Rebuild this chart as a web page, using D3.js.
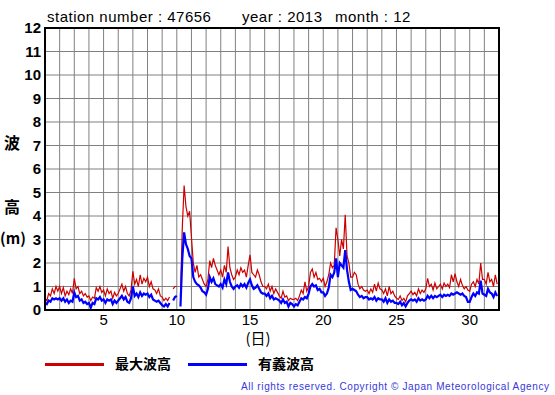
<!DOCTYPE html>
<html>
<head>
<meta charset="utf-8">
<script src="https://cdn.jsdelivr.net/npm/d3@7"></script>
<style>
  body { margin: 0; background: #fff; }
  svg { display: block; font-family: "Liberation Sans", Arial, sans-serif; }
</style>
</head>
<body>
<div class="chart"></div>
<script>
// 3-hourly values, one row per day (hours 0,3,...,21), null = missing
const maxWave = [
  0.5, 0.4, 0.7, 0.6, 0.9, 0.7, 1.0, 0.8,
  1.0, 0.7, 0.95, 0.6, 0.8, 0.65, 0.9, 0.7,
  1.35, 0.9, 1.0, 0.7, 0.8, 0.6, 0.7, 0.55,
  0.6, 0.4, 0.55, 0.5, 0.95, 0.8, 1.0, 0.75,
  0.85, 0.6, 0.9, 0.7, 0.8, 0.5, 0.75, 0.6,
  0.7, 0.9, 1.1, 0.8, 1.0, 0.7, 0.6, 0.85,
  1.65, 1.1, 1.3, 1.0, 1.5, 1.1, 1.35, 1.2,
  1.4, 1.0, 1.2, 0.9, 0.85, 0.7, 0.9, 0.6,
  0.55, 0.4, 0.5, 0.4, 0.55, null, 0.9, 1.0,
  1.0, null, 0.6, 3.5, 5.3, 4.4, 4.0, 4.2,
  3.1, 2.0, 1.6, 1.9, 1.4, 1.5, 1.3, 1.1,
  1.0, 1.3, 2.1, 1.8, 2.2, 1.9, 1.7, 1.5,
  1.7, 1.4, 1.9, 1.6, 2.7, 1.8, 1.5, 1.3,
  1.4, 1.7, 1.5, 1.8, 1.6, 1.7, 1.4, 1.9,
  2.35, 1.6, 1.5, 1.4, 1.7, 1.5, 1.2, 1.0,
  1.0, 0.9, 1.1, 0.8, 1.0, 0.7, 0.9, 0.75,
  0.6, 0.5, 0.8, 0.55, 0.6, 0.4, 0.5, 0.45,
  0.45, 0.5, 0.4, 0.6, 0.85, 0.7, 1.2, 0.8,
  1.0, 1.6, 1.75, 1.4, 1.6, 1.3, 1.35, 1.2,
  1.35, 1.0, 1.2, 1.5, 2.0, 1.8, 1.9, 3.5,
  3.0, 2.3, 3.0, 2.6, 4.05, 2.3, 2.0, 1.4,
  1.4, 1.6, 1.5, 1.1, 0.9, 1.0, 0.85, 0.8,
  0.85, 0.7, 0.9, 0.75, 1.1, 0.8, 1.15, 0.9,
  0.85, 0.7, 0.9, 0.6, 1.0, 0.7, 0.8, 0.6,
  0.5, 0.45, 0.6, 0.4, 0.5, 0.35, 0.6, 0.7,
  0.8, 0.65, 0.75, 0.6, 0.9, 0.7, 0.85, 0.75,
  0.9, 1.35, 1.0, 1.1, 0.85, 1.15, 0.9, 1.0,
  1.1, 0.9, 1.15, 1.0, 1.1, 0.95, 1.5, 1.2,
  1.55, 1.2, 1.0, 1.3, 1.05, 0.9, 1.0, 0.85,
  0.8, 1.1, 1.2, 1.0, 1.3, 1.1, 2.0, 1.3,
  1.3, 1.1, 1.6, 1.2, 1.3, 1.0, 1.5, 1.1
];

const sigWave = [
  0.3, 0.25, 0.4, 0.35, 0.5, 0.45, 0.5, 0.45,
  0.5, 0.4, 0.5, 0.35, 0.45, 0.3, 0.4, 0.35,
  0.75, 0.55, 0.6, 0.4, 0.45, 0.3, 0.35, 0.25,
  0.3, 0.1, 0.3, 0.25, 0.5, 0.45, 0.55, 0.4,
  0.45, 0.3, 0.45, 0.4, 0.45, 0.25, 0.4, 0.3,
  0.4, 0.5, 0.6, 0.45, 0.55, 0.35, 0.3, 0.5,
  1.0, 0.6, 0.7, 0.55, 0.75, 0.6, 0.7, 0.65,
  0.7, 0.55, 0.65, 0.45, 0.4, 0.35, 0.4, 0.3,
  0.2, 0.15, 0.25, 0.15, 0.3, null, 0.4, 0.55,
  0.6, null, 0.15, 2.2, 3.3, 2.8, 2.6, 2.3,
  2.2, 1.4, 1.2, 1.1, 1.05, 0.95, 0.8, 0.75,
  0.65, 0.9, 1.4, 1.2, 1.35, 1.1, 1.05, 1.0,
  1.1, 0.95, 1.3, 1.1, 1.6, 1.2, 1.0, 0.9,
  1.0, 1.05, 0.95, 1.1, 1.0, 1.1, 0.95, 1.15,
  1.3, 1.05, 0.9, 0.95, 1.05, 0.9, 0.75, 0.7,
  0.7, 0.6, 0.7, 0.5, 0.6, 0.45, 0.5, 0.45,
  0.4, 0.3, 0.45, 0.3, 0.35, 0.15, 0.3, 0.25,
  0.15, 0.25, 0.2, 0.35, 0.5, 0.45, 0.55, 0.5,
  0.7, 1.0, 1.1, 1.0, 1.05, 0.85, 0.9, 0.75,
  0.75, 0.6, 0.7, 0.95, 1.5, 1.4, 1.6, 2.2,
  1.4, 2.0, 1.9, 1.8, 2.55, 1.7, 1.2, 0.85,
  0.9, 0.85, 0.8, 0.65, 0.55, 0.6, 0.5, 0.55,
  0.55, 0.45, 0.5, 0.45, 0.55, 0.4, 0.5, 0.45,
  0.45, 0.35, 0.5, 0.3, 0.45, 0.35, 0.4, 0.3,
  0.3, 0.25, 0.35, 0.2, 0.3, 0.15, 0.3, 0.4,
  0.45, 0.4, 0.45, 0.35, 0.5, 0.4, 0.45, 0.4,
  0.45, 0.6, 0.5, 0.6, 0.5, 0.6, 0.55, 0.6,
  0.65, 0.55, 0.65, 0.6, 0.65, 0.6, 0.7, 0.65,
  0.7, 0.75, 0.7, 0.65, 0.7, 0.6, 0.55, 0.35,
  0.35, 0.55, 0.7, 0.6, 0.75, 0.7, 1.25, 0.7,
  0.65, 0.6, 0.9, 0.75, 0.7, 0.55, 0.75, 0.6
];

const xTicks = [5, 10, 15, 20, 25, 30];
const yTicks = [0, 1, 2, 3, 4, 5, 6, 7, 8, 9, 10, 11, 12];
const stepsPerDay = 8;

const w = 555, h = 395;
const m = { left: 45, right: 499, top: 28, bottom: 310 };

const svg = d3.select(".chart").append("svg")
  .attr("width", w).attr("height", h);

const x = d3.scaleLinear().domain([1, 32]).range([m.left, m.right]);
const y = d3.scaleLinear().domain([0, 12]).range([m.bottom, m.top]);

// grid
svg.append("g").selectAll("line")
  .data(d3.range(2, 32))
  .enter().append("line")
  .attr("x1", d => x(d)).attr("x2", d => x(d))
  .attr("y1", m.top).attr("y2", m.bottom)
  .attr("stroke", "#808080").attr("stroke-width", 1);

svg.append("g").selectAll("line")
  .data(yTicks.slice(1, -1))
  .enter().append("line")
  .attr("x1", m.left).attr("x2", m.right)
  .attr("y1", d => y(d)).attr("y2", d => y(d))
  .attr("stroke", "#808080").attr("stroke-width", 1);

// y tick labels
svg.append("g").selectAll("text")
  .data(yTicks)
  .enter().append("text")
  .attr("x", m.left - 4).attr("y", d => y(d) + 5)
  .attr("text-anchor", "end")
  .attr("font-size", 15).attr("font-weight", "bold")
  .text(d => d);

// x tick labels
svg.append("g").selectAll("text")
  .data(xTicks)
  .enter().append("text")
  .attr("x", d => x(d)).attr("y", m.bottom + 15)
  .attr("text-anchor", "middle")
  .attr("font-size", 15)
  .text(d => d);

// series
const pts = arr => arr.map((v, i) => ({ t: 1 + i / stepsPerDay, v: v }));
const line = d3.line()
  .defined(d => d.v !== null)
  .x(d => x(d.t)).y(d => y(d.v));

svg.append("path").datum(pts(maxWave))
  .attr("d", line).attr("fill", "none")
  .attr("stroke", "#cc0000").attr("stroke-width", 1.2);

svg.append("path").datum(pts(sigWave))
  .attr("d", line).attr("fill", "none")
  .attr("stroke", "#0000ff").attr("stroke-width", 2.2);

// frame
svg.append("rect")
  .attr("x", m.left).attr("y", m.top)
  .attr("width", m.right - m.left).attr("height", m.bottom - m.top)
  .attr("fill", "none").attr("stroke", "#000").attr("stroke-width", 2);

// titles
const title = [["station number : 47656", 47], ["year : 2013", 242], ["month : 12", 335]];
svg.append("g").selectAll("text")
  .data(title)
  .enter().append("text")
  .attr("x", d => d[1]).attr("y", 22)
  .attr("font-size", 15).attr("letter-spacing", 0.5)
  .text(d => d[0]);

svg.append("text").attr("x", 12).attr("y", 149)
  .attr("text-anchor", "middle").attr("font-size", 16).attr("font-weight", "bold")
  .attr("font-family", "Noto Sans CJK JP").text("波");
svg.append("text").attr("x", 12).attr("y", 213)
  .attr("text-anchor", "middle").attr("font-size", 16).attr("font-weight", "bold")
  .attr("font-family", "Noto Sans CJK JP").text("高");
svg.append("text").attr("x", 13).attr("y", 244)
  .attr("text-anchor", "middle").attr("font-size", 15).attr("font-weight", "bold")
  .attr("font-family", "Noto Sans CJK JP").text("(m)");

svg.append("text").attr("x", 258).attr("y", 344)
  .attr("text-anchor", "middle").attr("font-size", 15)
  .attr("font-family", "Noto Sans CJK JP").text("(日)");

// legend
const legend = [["最大波高", "#cc0000", 45], ["有義波高", "#0000ff", 188]];
const lg = svg.append("g").selectAll("g")
  .data(legend).enter().append("g");
lg.append("line")
  .attr("x1", d => d[2]).attr("x2", d => d[2] + 59)
  .attr("y1", 364.5).attr("y2", 364.5)
  .attr("stroke", d => d[1]).attr("stroke-width", 3);
lg.append("text")
  .attr("x", d => d[2] + 70).attr("y", 369)
  .attr("font-size", 14).attr("font-weight", "bold")
  .attr("font-family", "Noto Sans CJK JP")
  .text(d => d[0]);

svg.append("text").attr("x", 241).attr("y", 390)
  .attr("font-size", 10).attr("fill", "#3838d8")
  .attr("textLength", 308).attr("lengthAdjust", "spacing")
  .text("All rights reserved. Copyright © Japan Meteorological Agency");
</script>
</body>
</html>
